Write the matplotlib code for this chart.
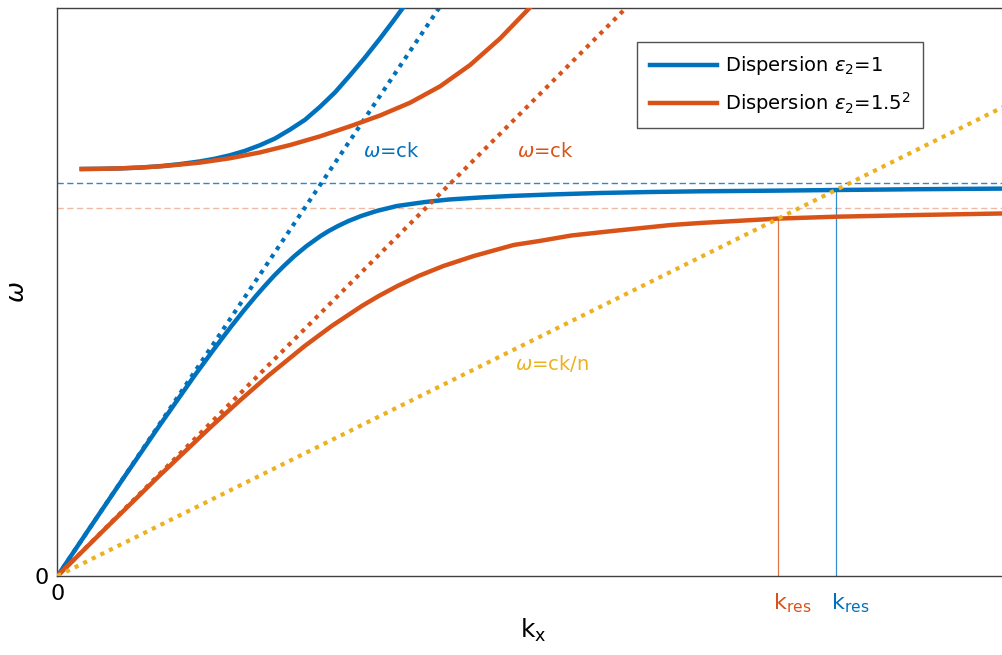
import matplotlib
matplotlib.use("Agg")
import matplotlib.pyplot as plt

# colours (MATLAB default order)
BLUE = '#0072BD'
RED = '#D95319'
YELLOW = '#EDB120'

# lower (surface plasmon) branch, eps2 = 1, arbitrary units
k_low_1 = [0, 0.336, 0.674, 1.017, 1.368, 1.551, 1.740, 1.859, 1.984, 2.072,
           2.163, 2.263, 2.370, 2.491, 2.631, 2.712, 2.805, 2.910, 3.036, 3.191,
           3.394, 3.678, 3.915, 4.225, 4.525, 4.925, 5.425, 5.925, 6.425, 7.225,
           7.785, 8.625, 9.6]
w_low_1 = [0, 0.50, 1.00, 1.50, 2.00, 2.25, 2.50, 2.65, 2.80, 2.90,
           3.00, 3.10, 3.20, 3.30, 3.40, 3.45, 3.50, 3.55, 3.60, 3.65,
           3.70, 3.74, 3.765, 3.785, 3.80, 3.815, 3.83, 3.84, 3.847, 3.854,
           3.86, 3.868, 3.875]

# lower branch, eps2 = 1.5^2
k_low_2 = [0, 0.505, 1.016, 1.543, 1.818, 2.104, 2.472, 2.742, 3.043, 3.212,
           3.399, 3.610, 3.859, 4.163, 4.561, 4.819, 5.138, 5.551, 6.135, 6.425,
           7.205, 7.785, 8.605, 9.6]
w_low_2 = [0, 0.50, 1.00, 1.50, 1.75, 2.00, 2.30, 2.50, 2.70, 2.80,
           2.90, 3.00, 3.10, 3.20, 3.31, 3.35, 3.405, 3.45, 3.51, 3.53,
           3.574, 3.593, 3.61, 3.628]

# upper branches
k_up_1 = [0.242, 0.425, 0.625, 0.825, 1.025, 1.225, 1.425, 1.575, 1.725, 1.875,
          2.025, 2.175, 2.325, 2.475, 2.625, 2.775, 2.925, 3.075, 3.225, 3.345,
          3.475]
w_up_1 = [4.07, 4.072, 4.076, 4.084, 4.098, 4.119, 4.146, 4.173, 4.2075, 4.2515,
          4.308, 4.375, 4.464, 4.562, 4.692, 4.836, 5.007, 5.185, 5.3745, 5.533,
          5.71]

k_up_2 = [0.242, 0.425, 0.625, 0.825, 1.025, 1.225, 1.425, 1.725, 2.025, 2.325,
          2.625, 2.925, 3.225, 3.525, 3.825, 4.125, 4.425, 4.725]
w_up_2 = [4.07, 4.072, 4.076, 4.085, 4.096, 4.114, 4.134, 4.1775, 4.236, 4.3095,
          4.3965, 4.497, 4.605, 4.7325, 4.896, 5.109, 5.3745, 5.685]

# light lines
k_light_1 = [0, 3.815]
w_light_1 = [0, 5.68]
k_light_2 = [0, 5.685]
w_light_2 = [0, 5.68]
k_light_n = [0, 9.525]
w_light_n = [0, 4.724]

# surface plasmon frequencies and resonance wavevectors (eps2 = 1, eps2 = 1.5^2)
w_sp = [3.927, 3.683]
k_res = [7.785, 7.205]
w_res = [3.86, 3.574]

fig = plt.figure(figsize=(10.03, 6.55), dpi=100)
ax = fig.add_axes([57.5 / 1003, 79 / 655, 952.5 / 1003, 568 / 655])

ax.axhline(w_sp[0], color='#2F86D4', lw=1.0, ls=(0, (4.5, 2.5)), zorder=1)
ax.axhline(w_sp[1], color=RED, lw=1.0, ls=(0, (4.5, 2.5)), alpha=0.4, zorder=1)
ax.plot([k_res[0], k_res[0]], [0, w_res[0]], color=BLUE, lw=0.9, alpha=0.8, zorder=1)
ax.plot([k_res[1], k_res[1]], [0, w_res[1]], color=RED, lw=0.9, alpha=0.8, zorder=1)

dots = (0, (1, 1.3))
ax.plot(k_light_1, w_light_1, color=BLUE, lw=3, ls=dots, zorder=2)
ax.plot(k_light_2, w_light_2, color=RED, lw=3, ls=dots, zorder=4)
ax.plot(k_light_n, w_light_n, color=YELLOW, lw=3, ls=dots, zorder=5)

ax.plot(k_low_1, w_low_1, color=BLUE, lw=3.2, label=r'Dispersion $\epsilon_2$=1', zorder=3)
ax.plot(k_up_1, w_up_1, color=BLUE, lw=3.2, zorder=3)
ax.plot(k_low_2, w_low_2, color=RED, lw=3.2, label=r'Dispersion $\epsilon_2$=1.5$^2$', zorder=3.5)
ax.plot(k_up_2, w_up_2, color=RED, lw=3.2, zorder=3.5)

ax.text(3.055, 4.24, r'$\omega$=ck', color=BLUE, fontsize=14, va='center')
ax.text(4.595, 4.24, r'$\omega$=ck', color=RED, fontsize=14, va='center')
ax.text(4.575, 2.13, r'$\omega$=ck/n', color=YELLOW, fontsize=14, va='center')

# resonance labels under the axis
for kr, col in zip(k_res, [BLUE, RED]):
    ax.annotate(r'$\mathregular{k_{res}}$', xy=(kr, 0), xycoords=('data', 'axes fraction'),
                xytext=(-3.5, -11), textcoords='offset points',
                ha='left', va='top', fontsize=16, color=col)

ax.set_xlim(0, 9.525)
ax.set_ylim(0, 5.68)

ax.set_xticks([0])
ax.set_xticklabels(['0'], fontsize=16)
ax.set_yticks([0])
ax.set_yticklabels(['0'], fontsize=16)
ax.tick_params(length=0)
ax.tick_params(axis='x', pad=6)
ax.tick_params(axis='y', pad=6)

ax.set_xlabel(r'$\mathregular{k_x}$', fontsize=18, labelpad=9)
ax.set_ylabel(r'$\omega$', fontsize=18, labelpad=4)

for side in ['left', 'bottom', 'top']:
    ax.spines[side].set_color('#404040')
    ax.spines[side].set_linewidth(1.0)
ax.spines['right'].set_visible(False)

leg = ax.legend(loc='upper left', bbox_to_anchor=(0.6084, 0.9407), fontsize=14,
                frameon=True, fancybox=False, edgecolor='#262626',
                handlelength=3.45, handletextpad=0.4, borderpad=0.65,
                labelspacing=0.65, borderaxespad=0)
leg.get_frame().set_linewidth(1.0)

fig.savefig('out.png', dpi=100)
